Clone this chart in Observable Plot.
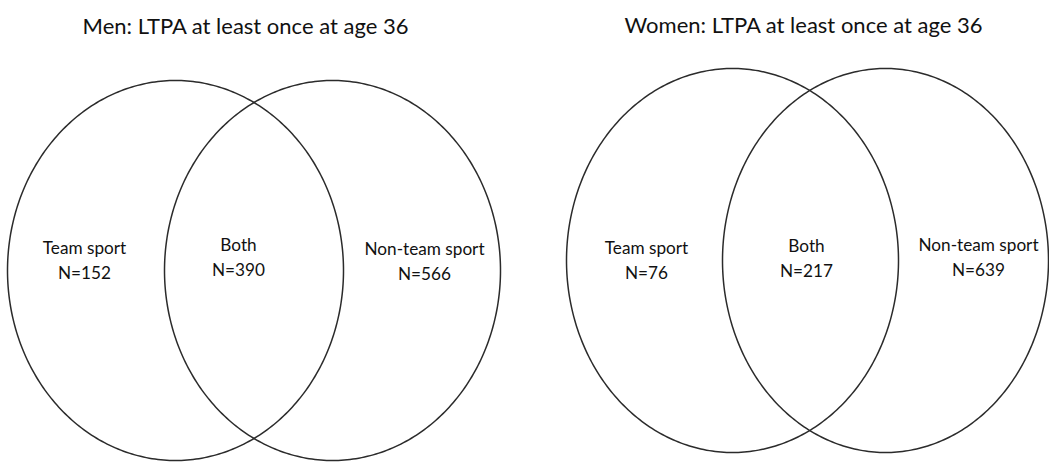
<!DOCTYPE html>
<html>
<head>
<meta charset="utf-8">
<script src="https://cdn.jsdelivr.net/npm/d3@7"></script>
<script src="https://cdn.jsdelivr.net/npm/@observablehq/plot@0.6"></script>
<style>
  html, body { margin: 0; padding: 0; background: #fff; }
  #chart svg { display: block; }
</style>
</head>
<body>
<div id="chart"></div>
<script>
// ---- data ----
const panels = ["Men", "Women"];
const titles = ["Men: LTPA at least once at age 36", "Women: LTPA at least once at age 36"];
const regions = ["Team sport", "Both", "Non-team sport"];
const menN = [152, 390, 566];
const womenN = [76, 217, 639];
const counts = [menN, womenN];

// ---- layout (pixel geometry of the venn figure) ----
const W = 1049, H = 462;
const layout = {
  Men: {
    title: [245, 33],
    ellipses: [[175, 270, 168, 190], [332, 270, 168, 190]],
    labels: [[84, 253], [238, 250], [424, 254]]
  },
  Women: {
    title: [803, 32],
    ellipses: [[732, 260, 166, 192], [885, 260, 163, 192]],
    labels: [[646, 253], [806, 251], [978, 250]]
  }
};
const lineGap = 25;

// outlines of the two sets in each panel
const outline = [];
panels.forEach(p => {
  layout[p].ellipses.forEach(([cx, cy, rx, ry], k) => {
    for (let i = 0; i <= 360; i++) {
      const t = (i / 360) * 2 * Math.PI;
      outline.push({panel: p, set: k, x: cx + rx * Math.cos(t), y: cy + ry * Math.sin(t)});
    }
  });
});

const labelRows = [];
panels.forEach((p, pi) => {
  regions.forEach((r, ri) => {
    const [x, y] = layout[p].labels[ri];
    labelRows.push({x, y, name: r, n: "N=" + counts[pi][ri]});
  });
});
const titleRows = panels.map((p, pi) => ({x: layout[p].title[0], y: layout[p].title[1], text: titles[pi]}));

const chart = Plot.plot({
  width: W,
  height: H,
  margin: 0,
  style: {fontFamily: "Lato, 'Open Sans', sans-serif", background: "#fff"},
  x: {domain: [0, W], range: [0, W], axis: null},
  y: {domain: [0, H], range: [0, H], axis: null},
  marks: [
    Plot.line(outline, {x: "x", y: "y", z: d => d.panel + d.set, stroke: "#2b2b2b", strokeWidth: 1.5, curve: "linear"}),
    Plot.text(titleRows, {x: "x", y: "y", text: "text", lineAnchor: "bottom", fontSize: 22, fill: "#111"}),
    Plot.text(labelRows, {x: "x", y: "y", text: "name", lineAnchor: "bottom", fontSize: 17.2, fill: "#111"}),
    Plot.text(labelRows, {x: "x", y: d => d.y + lineGap, text: "n", lineAnchor: "bottom", fontSize: 17.2, fill: "#111"})
  ]
});
document.getElementById("chart").append(chart);
</script>
</body>
</html>
